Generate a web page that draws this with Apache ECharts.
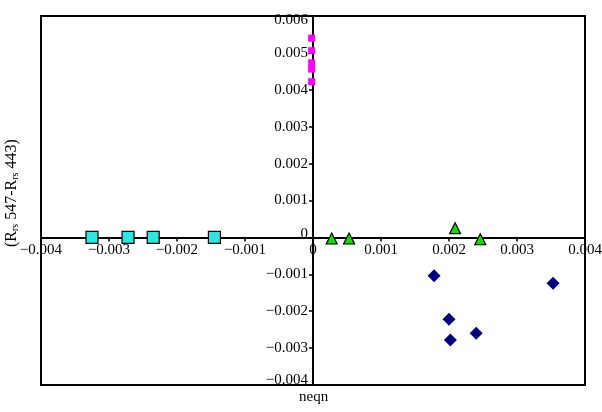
<!DOCTYPE html>
<html>
<head>
<meta charset="utf-8">
<script src="https://cdn.jsdelivr.net/npm/echarts@6/dist/echarts.min.js"></script>
<style>
  html, body { margin: 0; padding: 0; background: #fff; }
  #chart { width: 602px; height: 412px; }
</style>
</head>
<body>
<div id="chart"></div>
<script>
// data: [neqn, Rrs547-Rrs443]
const magentaPts = [[-0.00002, 0.0054], [-0.00002, 0.00506], [-0.00002, 0.00473], [-0.00002, 0.00456], [-0.00002, 0.00422]];
const cyanPts = [[-0.00325, 0.0], [-0.00272, 0.0], [-0.00235, 0.0], [-0.00145, 0.0]];
const greenPts = [[0.000275, -0.00003], [0.00053, -0.00003], [0.00209, 0.00025], [0.00246, -0.00005]];
const navyPts = [[0.00178, -0.00104], [0.00353, -0.00124], [0.002, -0.00222], [0.0024, -0.0026], [0.00202, -0.00278]];

const xMin = -0.004, xMax = 0.004, xStep = 0.001;
const yMin = -0.004, yMax = 0.006, yStep = 0.001;

const font = 'Liberation Serif';

// plot box in pixels
const gLeft = 41, gRight = 17, gTop = 16, gBottom = 27;
const W = 602, H = 412;
const plotW = W - gLeft - gRight;
const plotH = H - gTop - gBottom;
// shift the axes so they cross at zero, labels included
const xAxisShift = -plotH * (0 - yMin) / (yMax - yMin);
const yAxisShift = -plotW * (0 - xMin) / (xMax - xMin);

const fmt = (v) => {
    const r = Math.round(v * 1000);
    if (r === 0) return '0';
    return (r < 0 ? '\u2212' : '') + '0.00' + Math.abs(r);
};

// end labels of the y axis are nudged to stay inside the box
const yLabel = (v) => {
    if (Math.abs(v - yMin) < 1e-9) return '{up|' + fmt(v) + '}';
    if (Math.abs(v - yMax) < 1e-9) return '{down|' + fmt(v) + '}';
    if (Math.abs(v) < 1e-9) return '{up2|0}';
    return fmt(v);
};

const chart = echarts.init(document.getElementById('chart'));

chart.setOption({
    animation: false,
    backgroundColor: '#fff',
    grid: {
        left: gLeft, right: gRight, top: gTop, bottom: gBottom,
        outerBoundsMode: 'none',
        containLabel: false,
        show: true,
        borderColor: '#000',
        borderWidth: 2
    },
    xAxis: {
        type: 'value',
        min: xMin, max: xMax, interval: xStep,
        position: 'bottom',
        offset: xAxisShift,
        axisLine: {onZero: false, lineStyle: {color: '#000', width: 2}},
        axisTick: {show: true, length: 4, lineStyle: {color: '#000', width: 1.5}},
        axisLabel: {
            color: '#000', fontFamily: font, fontSize: 15, margin: 5,
            showMinLabel: true, showMaxLabel: true,
            hideOverlap: false,
            formatter: fmt
        },
        splitLine: {show: false}
    },
    yAxis: {
        type: 'value',
        min: yMin, max: yMax, interval: yStep,
        position: 'left',
        offset: yAxisShift,
        axisLine: {onZero: false, lineStyle: {color: '#000', width: 2}},
        axisTick: {show: true, length: 4, lineStyle: {color: '#000', width: 1.5}},
        axisLabel: {
            color: '#000', fontFamily: font, fontSize: 15, margin: 5,
            showMinLabel: true, showMaxLabel: true,
            hideOverlap: false,
            formatter: yLabel,
            rich: {
                up: {fontFamily: font, fontSize: 15, color: '#000', padding: [0, 0, 9, 0]},
                up2: {fontFamily: font, fontSize: 15, color: '#000', padding: [0, 0, 7, 0]},
                down: {fontFamily: font, fontSize: 15, color: '#000', padding: [8, 0, 0, 0]}
            }
        },
        splitLine: {show: false}
    },
    graphic: [
        {
            type: 'text',
            left: 299, top: 390,
            style: {text: 'neqn', font: '15px "Liberation Serif"', fill: '#000'}
        },
        {
            type: 'text',
            x: 3, y: 247,
            rotation: Math.PI / 2,
            style: {
                text: '(R{s|rs} 547-R{s|rs} 443)',
                fill: '#000',
                font: '16px "Liberation Serif"',
                rich: {
                    s: {fontSize: 10, fontFamily: font, verticalAlign: 'bottom', padding: [7, 0, 0, 0]}
                }
            }
        }
    ],
    series: [
        {
            type: 'scatter',
            data: magentaPts,
            symbol: 'rect',
            symbolSize: 7,
            itemStyle: {color: '#ff00ff', opacity: 1}
        },
        {
            type: 'scatter',
            data: cyanPts,
            symbol: 'rect',
            symbolSize: 12,
            itemStyle: {color: '#2ee6e0', borderColor: '#000', borderWidth: 1.2, opacity: 1}
        },
        {
            type: 'scatter',
            data: greenPts,
            symbol: 'triangle',
            symbolSize: 11,
            itemStyle: {color: '#11dd00', borderColor: '#000', borderWidth: 1.2, opacity: 1}
        },
        {
            type: 'scatter',
            data: navyPts,
            symbol: 'diamond',
            symbolSize: 13,
            itemStyle: {color: '#000080', opacity: 1}
        }
    ]
});
</script>
</body>
</html>
